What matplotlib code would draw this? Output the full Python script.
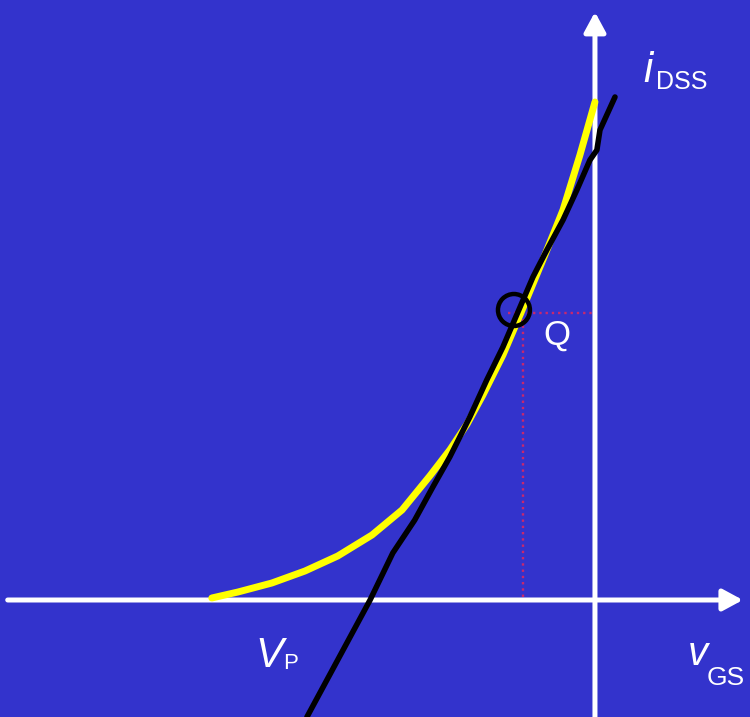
import matplotlib
matplotlib.use("Agg")
import matplotlib.pyplot as plt
from matplotlib.patches import Ellipse

# transfer characteristic, normalised: v = vGS/|VP|, i = iD/iDSS
vgs_curve = [-0.995, -0.927, -0.839, -0.753, -0.668, -0.579, -0.501, -0.429,
             -0.377, -0.332, -0.291, -0.239, -0.187, -0.130, -0.083, -0.039,
             0.000]
id_curve = [0.004, 0.016, 0.034, 0.058, 0.088, 0.130, 0.180, 0.248,
            0.300, 0.352, 0.410, 0.490, 0.584, 0.690, 0.780, 0.890,
            0.996]

# hand-drawn load line through the Q point
vgs_line = [-0.748, -0.584, -0.525, -0.468, -0.421, -0.377, -0.325, -0.281,
            -0.239, -0.161, -0.125, -0.083, -0.047, -0.013, 0.005, 0.013, 0.052]
id_line = [-0.234, 0.000, 0.094, 0.160, 0.226, 0.286, 0.366, 0.440,
           0.506, 0.646, 0.700, 0.760, 0.820, 0.880, 0.900, 0.940, 1.006]

vq, iq = -0.187, 0.574

bg = "#3333CC"
font = "Liberation Sans"

fig = plt.figure(figsize=(7.5, 7.17), dpi=100)
fig.patch.set_facecolor(bg)
ax = fig.add_axes([0, 0, 1, 1])
ax.set_facecolor(bg)
ax.set_xlim(-1.545, 0.4026)
ax.set_ylim(-0.234, 1.2)
ax.axis("off")

# axes with arrow heads
arrow = dict(arrowstyle="-|>,head_length=12,head_width=6.5", lw=3.6,
             color="white", shrinkA=0, shrinkB=0, mutation_scale=1)
ax.annotate("", xy=(0.384, 0), xytext=(-1.525, 0), arrowprops=arrow, zorder=1)
ax.annotate("", xy=(0, 1.176), xytext=(0, -0.234), arrowprops=arrow, zorder=1)

# Q point projections
ax.plot([vq - 0.04, 0], [iq, iq], ls=":", lw=1.7, color="#C8286E", zorder=2)
ax.plot([vq, vq], [iq, 0], ls=":", lw=1.7, color="#C8286E", zorder=2)

ax.plot(vgs_curve, id_curve, color="#FFFF00", lw=5,
        solid_capstyle="round", solid_joinstyle="round", zorder=3)
ax.plot(vgs_line, id_line, color="black", lw=4, solid_capstyle="round",
        solid_joinstyle="round", zorder=4)
ax.add_patch(Ellipse((-0.2104, 0.58), 0.083, 0.064, fill=False,
                     ec="black", lw=3.2, zorder=5))

txt = dict(color="white", family=font, ha="left", va="baseline")
ax.text(0.1247, 1.036, "i", fontsize=30, style="italic", **txt)
ax.text(0.158, 1.022, "DSS", fontsize=18, **txt)
ax.text(-0.883, -0.134, "V", fontsize=30, style="italic", **txt)
ax.text(-0.810, -0.138, "P", fontsize=16, **txt)
ax.text(0.2416, -0.13, "v", fontsize=29, style="italic", **txt)
ax.text(0.291, -0.17, "GS", fontsize=19, **txt)
ax.text(-0.135, 0.51, "Q", fontsize=25, **txt)

fig.savefig("out.png", dpi=100, facecolor=bg)
